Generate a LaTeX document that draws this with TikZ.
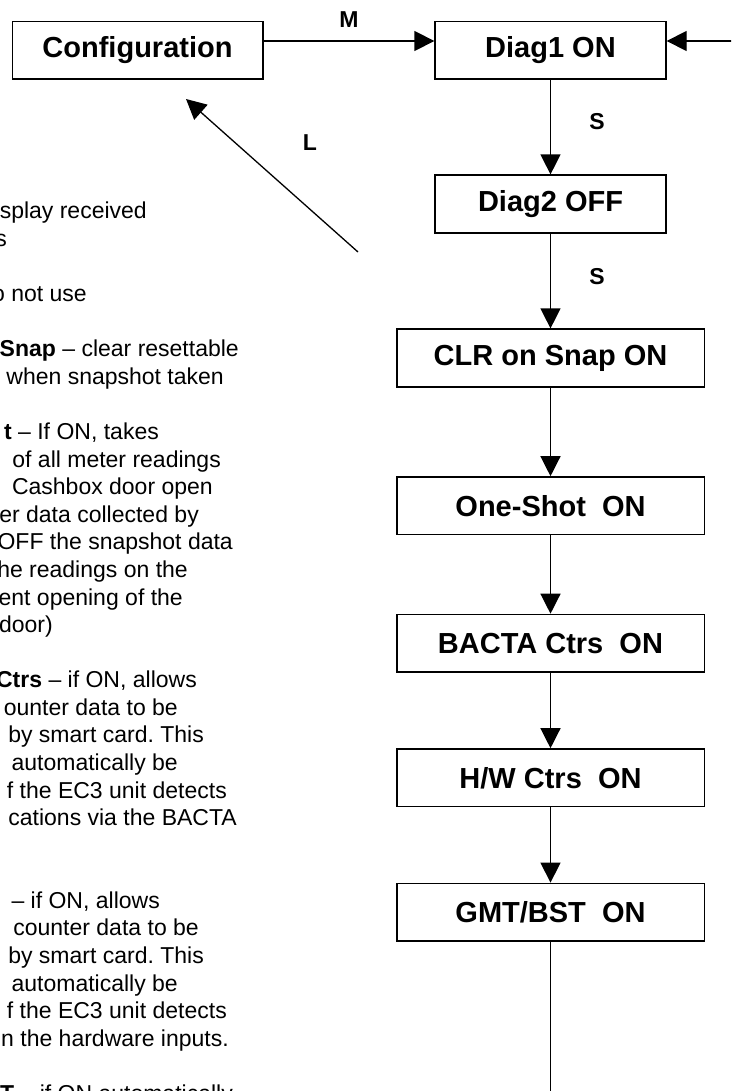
\documentclass[tikz,border=0pt]{standalone}
\usepackage{fontspec}
\setmainfont{Liberation Sans}
\usetikzlibrary{arrows.meta}
\frenchspacing
\begin{document}
\begin{tikzpicture}[x=1pt,y=-1pt,
  stepbox/.style={draw, line width=1.6pt, minimum height=57.6pt, inner sep=0pt,
    font=\fontsize{29}{34}\selectfont\bfseries},
  narrowbox/.style={stepbox, minimum width=230.7pt},
  widebox/.style={stepbox, minimum width=307.6pt},
  arr/.style={line width=1.3pt, -{Triangle[length=20pt,width=20pt]}},
  plainline/.style={line width=1.3pt},
  lbl/.style={inner sep=0pt, font=\fontsize{23}{27}\selectfont\bfseries},
  txt/.style={anchor=base east, inner sep=0pt, font=\fontsize{23}{27.57}\selectfont}
]
\useasboundingbox (0,0) rectangle (731,1091);
\clip (0,0) rectangle (731,1091);

% boxes
\node[stepbox, minimum width=250.4pt] (cfg) at (137.5,50.5) {Configuration};
\node[narrowbox] (d1) at (550.5,50.5) {Diag1 ON};
\node[narrowbox] (d2) at (550.5,204) {Diag2 OFF};
\node[widebox] (clr) at (550.5,358) {CLR on Snap ON};
\node[widebox] (one) at (550.5,505.8) {One-Shot\ \ ON};
\node[widebox] (bacta) at (550.5,643.3) {BACTA Ctrs\ \ ON};
\node[widebox] (hw) at (550.5,777.8) {H/W Ctrs\ \ ON};
\node[widebox] (gmt) at (550.5,912.2) {GMT/BST\ \ ON};

% connectors
\coordinate (rin) at (745,41);
\coordinate (exit) at (550.5,1100);
\coordinate (ltail) at (358,252);
\coordinate (lhead) at (186,99);
\draw[arr] ([yshift=9.5pt]cfg.east) -- ([yshift=9.5pt]d1.west);
\draw[arr] (rin) -- ([yshift=9.5pt]d1.east);
\draw[arr] (d1.south) -- (d2.north);
\draw[arr] (d2.south) -- (clr.north);
\draw[arr] (clr.south) -- (one.north);
\draw[arr] (one.south) -- (bacta.north);
\draw[arr] (bacta.south) -- (hw.north);
\draw[arr] (hw.south) -- (gmt.north);
\draw[plainline] (gmt.south) -- (exit);
\draw[arr] (ltail) -- (lhead);

% connector labels
\node[lbl] (m) at (349,20) {M};
\node[lbl] (s1) at (597,122) {S};
\node[lbl] (s2) at (597,277) {S};
\node[lbl] (l) at (310,143) {L};

% clipped description text
\node[txt] (t0) at (147,219) {splay received};
\node[txt] (t1) at (7,246.6) {s};
\node[txt] (t3) at (87,301.7) {o not use};
\node[txt] (t5) at (239,356.9) {\textbf{Snap} – clear resettable};
\node[txt] (t6) at (224,384.4) {when snapshot taken};
\node[txt] (t8) at (159,439.6) {\textbf{t} – If ON, takes};
\node[txt] (t9) at (221,467.1) {of all meter readings};
\node[txt] (t10) at (213,494.7) {Cashbox door open};
\node[txt] (t11) at (199,522.3) {er data collected by};
\node[txt] (t12) at (233,549.8) {OFF the snapshot data};
\node[txt] (t13) at (188,577.4) {he readings on the};
\node[txt] (t14) at (183,605.0) {ent opening of the};
\node[txt] (t15) at (53,632.6) {door)};
\node[txt] (t17) at (197,687.7) {\textbf{Ctrs} – if ON, allows};
\node[txt] (t18) at (178,715.3) {ounter data to be};
\node[txt] (t19) at (204,742.8) {by smart card. This};
\node[txt] (t20) at (178,770.4) {automatically be};
\node[txt] (t21) at (227,798.0) {f the EC3 unit detects};
\node[txt] (t22) at (237,825.5) {cations via the BACTA};
\node[txt] (t25) at (160,908.3) {– if ON, allows};
\node[txt] (t26) at (199,935.8) {counter data to be};
\node[txt] (t27) at (204,963.4) {by smart card. This};
\node[txt] (t28) at (178,991.0) {automatically be};
\node[txt] (t29) at (227,1018.5) {f the EC3 unit detects};
\node[txt] (t30) at (229,1046.1) {n the hardware inputs.};
\node[txt] (t32) at (233,1101.2) {\textbf{T} – if ON automatically};
\end{tikzpicture}
\end{document}
